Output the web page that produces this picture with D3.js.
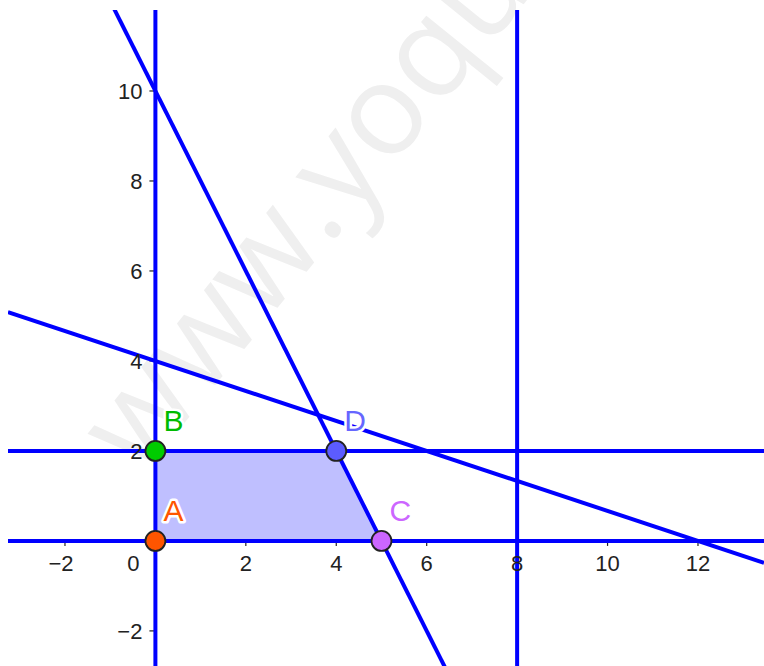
<!DOCTYPE html>
<html>
<head>
<meta charset="utf-8">
<script src="https://cdn.jsdelivr.net/npm/d3@7/dist/d3.min.js"></script>
<style>
  body { margin: 0; background: #fff; }
  svg { display: block; }
  .tick-label { font-family: "Liberation Sans", Arial, sans-serif; font-size: 22px; fill: #222; }
  .pt-label { font-family: "Liberation Sans", Arial, sans-serif; font-size: 30px; stroke: #fff; stroke-width: 5px; paint-order: stroke; stroke-linejoin: round; }
</style>
</head>
<body>
<script>
// axis ranges and ticks
var xDomain = [-3.26, 13.46],
    yDomain = [-2.78, 11.8];
var xTicks = [-2, 0, 2, 4, 6, 8, 10, 12];
var yTicks = [-2, 2, 4, 6, 8, 10];

// constraint lines
var vLines = [0, 8];          // x = k
var hLines = [0, 2];          // y = k
var lineA = [2, 1, 10];       // 2x + y = 10
var lineB = [1, 3, 12];       // x + 3y = 12

// feasible region vertices
var ptNames = ["A", "B", "D", "C"];
var ptX = [0, 0, 4, 5];
var ptY = [0, 2, 2, 0];
var ptFill = ["#ff5500", "#00cc00", "#5c5cff", "#cc66ff"];
var labelFill = ["#ff5500", "#00bb00", "#6666ff", "#cc66ff"];

window.onload = draw();

function draw(){
    var width = 764, height = 666;
    var left = 8, top = 10;

    var svg = d3.select("body").append("svg")
        .attr("width", width)
        .attr("height", height);

    var x = d3.scaleLinear().domain(xDomain).range([left, width]);
    var y = d3.scaleLinear().domain(yDomain).range([height, top]);

    svg.append("clipPath").attr("id", "plot")
        .append("rect")
        .attr("x", left).attr("y", top)
        .attr("width", width - left).attr("height", height - top);

    // watermark
    svg.append("text")
        .attr("transform", "translate(140,478) rotate(-51)")
        .style("font-family", "'Open Sans', sans-serif")
        .style("font-size", "128px")
        .style("fill", "#efefef")
        .text("www.yoquan.com");

    var g = svg.append("g").attr("clip-path", "url(#plot)");

    // ticks on the axes
    g.selectAll(".xtick").data(xTicks.filter(function(d){ return d != 0; }))
        .enter().append("line")
        .attr("x1", function(d){ return x(d); }).attr("x2", function(d){ return x(d); })
        .attr("y1", y(0)).attr("y2", y(0) + 5)
        .attr("stroke", "#222").attr("stroke-width", 1.2);
    g.selectAll(".ytick").data(yTicks)
        .enter().append("line")
        .attr("x1", x(0) - 6).attr("x2", x(0))
        .attr("y1", function(d){ return y(d); }).attr("y2", function(d){ return y(d); })
        .attr("stroke", "#222").attr("stroke-width", 1.2);

    // tick labels
    var fmt = function(d){ return d < 0 ? "\u2212" + Math.abs(d) : String(d); };
    svg.selectAll(".xlab").data(xTicks.filter(function(d){ return d != 0; }))
        .enter().append("text")
        .attr("class", "tick-label")
        .attr("x", function(d){ return x(d) + (d < 0 ? -4 : 0); })
        .attr("y", y(0) + 30)
        .attr("text-anchor", "middle")
        .text(fmt);
    svg.append("text").attr("class", "tick-label")
        .attr("x", x(0) - 16).attr("y", y(0) + 30)
        .attr("text-anchor", "end").text("0");
    svg.selectAll(".ylab").data(yTicks)
        .enter().append("text")
        .attr("class", "tick-label")
        .attr("x", x(0) - 13)
        .attr("y", function(d){ return y(d) + 8; })
        .attr("text-anchor", "end")
        .text(fmt);

    // feasible region
    var poly = ptX.map(function(d, i){ return [x(d), y(ptY[i])]; });
    g.append("path")
        .attr("d", "M" + poly.join("L") + "Z")
        .attr("fill", "#0000ff").attr("fill-opacity", 0.25);

    var blue = "#0000ff", sw = 4;

    g.selectAll(".vline").data(vLines).enter().append("line")
        .attr("x1", function(d){ return x(d); }).attr("x2", function(d){ return x(d); })
        .attr("y1", y(yDomain[0])).attr("y2", y(yDomain[1]))
        .attr("stroke", blue).attr("stroke-width", sw);
    g.selectAll(".hline").data(hLines).enter().append("line")
        .attr("x1", x(xDomain[0])).attr("x2", x(xDomain[1]))
        .attr("y1", function(d){ return y(d); }).attr("y2", function(d){ return y(d); })
        .attr("stroke", blue).attr("stroke-width", sw);

    // oblique lines ax + by = c, drawn across the x range
    [lineA, lineB].forEach(function(l){
        var yAt = function(xv){ return (l[2] - l[0] * xv) / l[1]; };
        g.append("line")
            .attr("x1", x(xDomain[0])).attr("y1", y(yAt(xDomain[0])))
            .attr("x2", x(xDomain[1])).attr("y2", y(yAt(xDomain[1])))
            .attr("stroke", blue).attr("stroke-width", sw);
    });

    // points
    g.selectAll(".pt").data(ptNames).enter().append("circle")
        .attr("cx", function(d, i){ return x(ptX[i]); })
        .attr("cy", function(d, i){ return y(ptY[i]); })
        .attr("r", 10)
        .attr("fill", function(d, i){ return ptFill[i]; })
        .attr("stroke", "#222").attr("stroke-width", 1.8);

    svg.selectAll(".pt-label").data(ptNames).enter().append("text")
        .attr("class", "pt-label")
        .attr("x", function(d, i){ return x(ptX[i]) + 8; })
        .attr("y", function(d, i){ return y(ptY[i]) - 20; })
        .attr("fill", function(d, i){ return labelFill[i]; })
        .text(function(d){ return d; });
}
</script>
</body>
</html>
